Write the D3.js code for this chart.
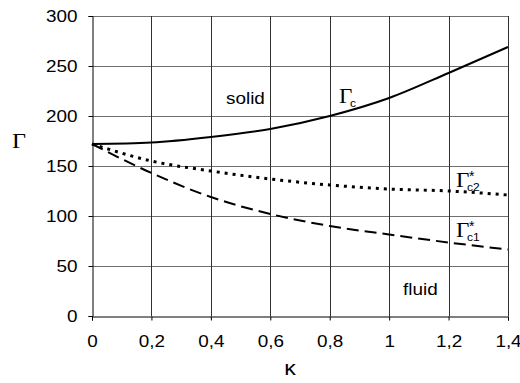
<!DOCTYPE html>
<html>
<head>
<meta charset="utf-8">
<script src="https://cdn.jsdelivr.net/npm/d3@7"></script>
<style>
  body { margin: 0; background: #fff; }
  text { font-family: "Liberation Sans", Arial, sans-serif; fill: #000; }
  .serif { font-family: "Liberation Serif", "Times New Roman", serif; }
</style>
</head>
<body>
<script>
// kappa values where curves were read
const kappa = [0, 0.2, 0.4, 0.6, 0.8, 1.0, 1.2, 1.4];
// Gamma_c (solid)
const gammaC = [172, 173.5, 179, 187, 200, 218, 243, 269];
// Gamma*_c2 (dotted)
const gammaC2 = [172, 155, 145, 137, 131, 127, 125, 121];
// Gamma*_c1 (dashed)
const gammaC1 = [172, 143, 119, 102, 90, 81.5, 73.5, 66.5];

const xTicks = [0, 0.2, 0.4, 0.6, 0.8, 1, 1.2, 1.4];
const yTicks = [0, 50, 100, 150, 200, 250, 300];

const width = 520, height = 383;
const margin = { top: 16, right: 12, bottom: 67, left: 92 };
const plotW = width - margin.left - margin.right;
const plotH = height - margin.top - margin.bottom;
const STRETCH = 1.18; // the original glyphs are a bit wide

const xScale = d3.scaleLinear().domain([0, 1.4]).range([0, plotW]);
const yScale = d3.scaleLinear().domain([0, 300]).range([plotH, 0]);

// widen a text horizontally, keeping its anchor
function stretch(sel, f) {
  sel.each(function() {
    const w = this.getComputedTextLength();
    d3.select(this)
      .attr('textLength', w * f)
      .attr('lengthAdjust', 'spacingAndGlyphs');
  });
}

const svg = d3.select('body')
  .append('svg')
  .attr('width', width)
  .attr('height', height);

const graph = svg.append('g')
  .attr('transform', 'translate(' + margin.left + ',' + margin.top + ')');

// grid
graph.append('g')
  .selectAll('line')
  .data(yTicks.slice(1))
  .enter()
  .append('line')
  .attr('x1', 0).attr('x2', plotW)
  .attr('y1', d => Math.round(yScale(d)) + 0.5)
  .attr('y2', d => Math.round(yScale(d)) + 0.5)
  .attr('stroke', '#707070');

graph.append('g')
  .selectAll('line')
  .data(xTicks.slice(1))
  .enter()
  .append('line')
  .attr('y1', 0).attr('y2', plotH)
  .attr('x1', d => Math.round(xScale(d)) + 0.5)
  .attr('x2', d => Math.round(xScale(d)) + 0.5)
  .attr('stroke', '#303030');

const fmt = d => String(d).replace('.', ',');

const yAxis = graph.append('g')
  .attr('transform', 'translate(0.5,0)')
  .call(d3.axisLeft(yScale).tickValues(yTicks).tickSize(4).tickPadding(11).tickFormat(d => d));
yAxis.select('.domain').attr('stroke', '#000');
yAxis.selectAll('line').attr('stroke', '#000');
yAxis.selectAll('text').style('font-size', '16px').attr('fill', '#000').call(stretch, STRETCH);

const xAxis = graph.append('g')
  .attr('transform', 'translate(0,' + (plotH + 0.5) + ')')
  .call(d3.axisBottom(xScale).tickValues(xTicks).tickSize(4).tickPadding(15).tickFormat(fmt));
xAxis.select('.domain').attr('stroke', '#000');
xAxis.selectAll('line').attr('stroke', '#000');
xAxis.selectAll('text').style('font-size', '16px').attr('fill', '#000').call(stretch, STRETCH);

// curves
const line = d3.line()
  .x(d => xScale(d[0]))
  .y(d => yScale(d[1]))
  .curve(d3.curveMonotoneX);

const series = [
  { values: gammaC, dash: null, w: 2 },
  { values: gammaC2, dash: '3,5', w: 3 },
  { values: gammaC1, dash: '12,6', w: 2 }
];

graph.selectAll('path.curve')
  .data(series)
  .enter()
  .append('path')
  .attr('class', 'curve')
  .attr('fill', 'none')
  .attr('stroke', '#000')
  .attr('stroke-width', d => d.w)
  .attr('stroke-dasharray', d => d.dash)
  .attr('d', d => line(kappa.map((k, i) => [k, d.values[i]])));

// region labels
svg.append('text').attr('x', 226).attr('y', 104).style('font-size', '16px').text('solid').call(stretch, STRETCH);
svg.append('text').attr('x', 403).attr('y', 295).style('font-size', '16px').text('fluid').call(stretch, STRETCH);

// curve labels
function gammaLabel(x, y, sub, star) {
  svg.append('text').attr('class', 'serif').attr('x', x).attr('y', y)
    .style('font-size', '21px').text('Γ').call(stretch, 1.1);
  svg.append('text').attr('x', x + 11).attr('y', y + 4)
    .style('font-size', '10px').text(sub).call(stretch, 1.2);
  if (star) {
    svg.append('text').attr('x', x + 13).attr('y', y - 6)
      .style('font-size', '14px').text('*');
  }
}
gammaLabel(339, 103, 'c', false);
gammaLabel(456, 187, 'c2', true);
gammaLabel(456, 237, 'c1', true);

// axis titles
svg.append('text').attr('class', 'serif').attr('x', 12).attr('y', 148)
  .style('font-size', '22px').text('Γ').call(stretch, 1.1);
svg.append('text').attr('x', 290).attr('y', 375).attr('text-anchor', 'middle')
  .style('font-size', '21px').text('κ').call(stretch, 1.1);
</script>
</body>
</html>
